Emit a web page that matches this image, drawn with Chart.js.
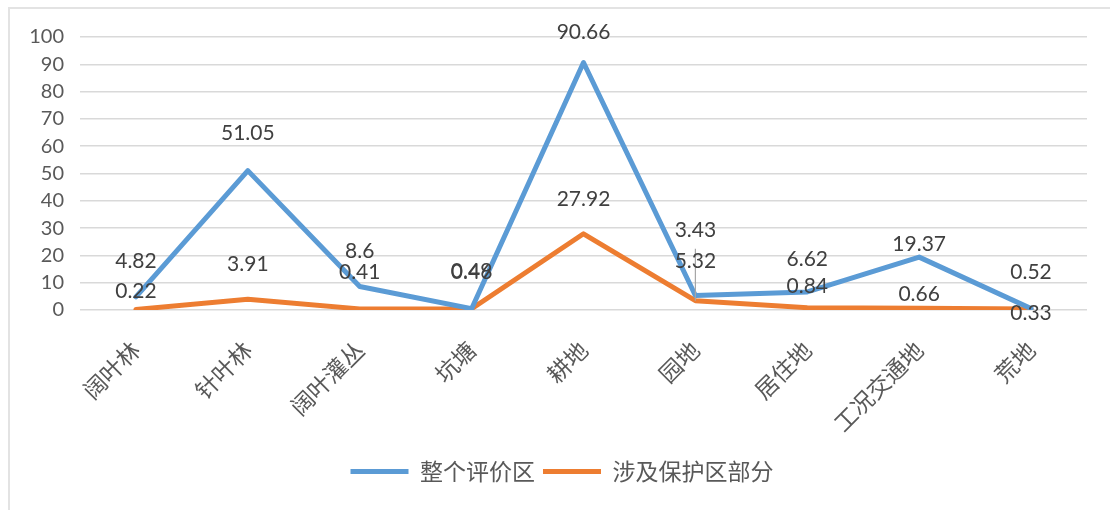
<!DOCTYPE html>
<html>
<head>
<meta charset="utf-8">
<script src="https://cdn.jsdelivr.net/npm/chart.js@4/dist/chart.umd.min.js"></script>
<style>
  html, body { margin: 0; padding: 0; background: #fff; }
  #wrap { position: relative; width: 1110px; height: 510px; }
  #frame { position: absolute; left: 8px; top: 7px; right: 0; bottom: 0; border-left: 2px solid #e3e3e3; border-top: 2px solid #e3e3e3; }
  canvas { position: absolute; left: 0; top: 0; }
</style>
</head>
<body>
<div id="wrap">
  <div id="frame"></div>
  <canvas id="chart" width="1110" height="510"></canvas>
</div>
<script>
// categories and values
let categories = ['阔叶林', '针叶林', '阔叶灌丛', '坑塘', '耕地', '园地', '居住地', '工况交通地', '荒地']
let wholeArea = [4.82, 51.05, 8.6, 0.49, 90.66, 5.32, 6.62, 19.37, 0.52]
let reserveArea = [0.22, 3.91, 0.41, 0.46, 27.92, 3.43, 0.84, 0.66, 0.33]
let seriesNames = ['整个评价区', '涉及保护区部分']
let yTicks = [0, 10, 20, 30, 40, 50, 60, 70, 80, 90, 100]

// how far above each point its label sits (px), labels were hand-placed in the original
let labelLift = [
    [36, 37, 35, 37, 30, 34, 33, 13, 36],
    [18, 35, 37, 37, 35, 70, 21, 14, -4]
]

const fontNum = "Lato, 'Noto Sans CJK SC', sans-serif"
const fontCjk = "'Noto Sans CJK SC', sans-serif"

let valueLabels = {
    id: 'valueLabels',
    afterLayout(chart) {
        // legend sits a bit right of centre in the original
        chart.legend.left += 10
        chart.legend.right += 10
    },
    afterDatasetsDraw(chart) {
        let ctx = chart.ctx
        ctx.save()
        // leader line for the moved label at 园地
        let m = chart.getDatasetMeta(1).data[5]
        ctx.strokeStyle = '#a6a6a6'
        ctx.lineWidth = 1.2
        ctx.beginPath()
        ctx.moveTo(m.x, m.y)
        ctx.lineTo(m.x, m.y - labelLift[1][5] + 18)
        ctx.stroke()

        ctx.font = '21px ' + fontNum
        ctx.fillStyle = '#404040'
        ctx.textAlign = 'center'
        ctx.textBaseline = 'middle'
        chart.data.datasets.forEach((ds, d) => {
            chart.getDatasetMeta(d).data.forEach((pt, i) => {
                ctx.fillText(String(ds.data[i]), pt.x, pt.y - labelLift[d][i])
            })
        })
        ctx.restore()
    }
}

let ctx = document.getElementById('chart').getContext('2d')
let myChart = new Chart(ctx, {
    type: 'line',
    data: {
        labels: categories,
        datasets: [{
            label: seriesNames[0],
            data: wholeArea,
            borderColor: '#5b9bd5',
            backgroundColor: '#5b9bd5',
            borderWidth: 5,
            borderCapStyle: 'round',
            borderJoinStyle: 'round',
            pointRadius: 0,
            tension: 0
        }, {
            label: seriesNames[1],
            data: reserveArea,
            borderColor: '#ed7d31',
            backgroundColor: '#ed7d31',
            borderWidth: 5,
            borderCapStyle: 'round',
            borderJoinStyle: 'round',
            pointRadius: 0,
            tension: 0
        }]
    },
    options: {
        responsive: false,
        animation: false,
        layout: { padding: { top: 37, right: 23, left: 17, bottom: 17 } },
        plugins: {
            tooltip: { enabled: false },
            legend: {
                position: 'bottom',
                labels: {
                    usePointStyle: true,
                    pointStyle: 'line',
                    pointStyleWidth: 58,
                    padding: 8,
                    color: '#595959',
                    font: { size: 23, family: fontCjk }
                }
            }
        },
        scales: {
            x: {
                offset: true,
                grid: { display: false },
                border: { display: false },
                afterFit: axis => { axis.height = 142 },
                ticks: {
                    color: '#595959',
                    font: { size: 23, family: fontCjk },
                    minRotation: 45,
                    maxRotation: 45,
                    padding: 18
                }
            },
            y: {
                min: 0,
                max: 100,
                afterBuildTicks: axis => { axis.ticks = yTicks.map(v => ({ value: v })) },
                afterFit: axis => { axis.width = 63 },
                grid: { color: '#d9d9d9', lineWidth: 1.5, drawTicks: false },
                border: { display: false },
                ticks: {
                    color: '#595959',
                    font: { size: 20, family: fontNum },
                    padding: 16
                }
            }
        }
    },
    plugins: [valueLabels]
})
</script>
</body>
</html>
